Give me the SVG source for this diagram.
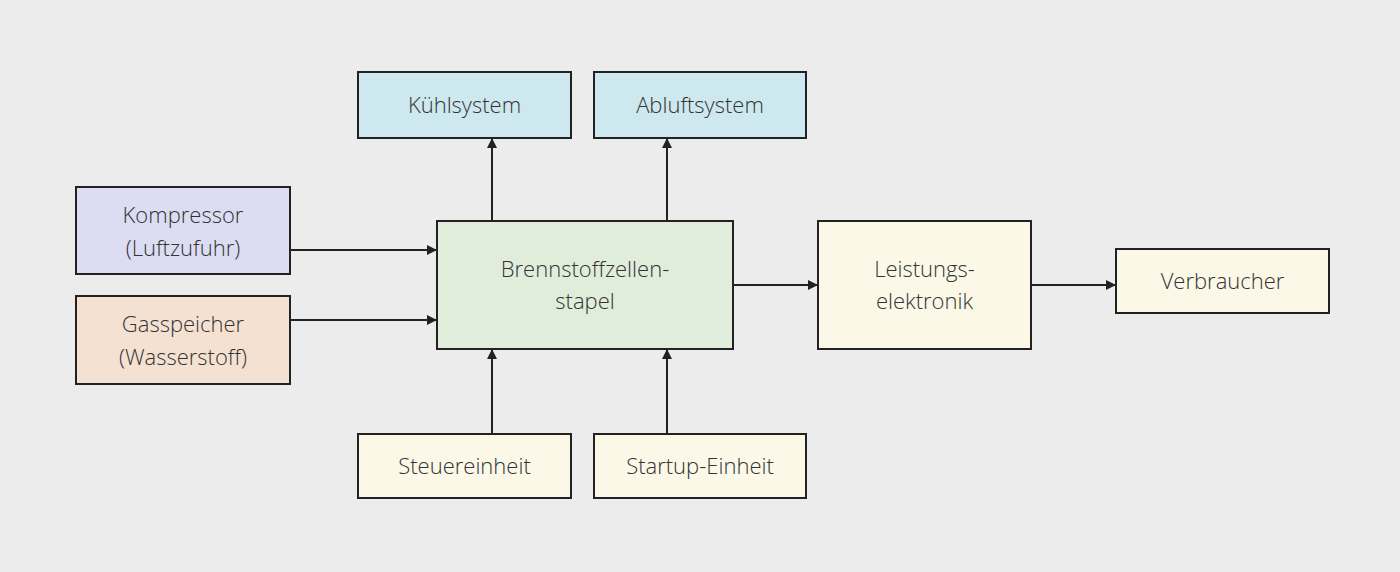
<svg xmlns="http://www.w3.org/2000/svg" width="1400" height="572" viewBox="0 0 1400 572">
<style>
.n{stroke:#222;stroke-width:2}
text{font-family:"Open Sans","Liberation Sans",sans-serif;font-size:22px;fill:#333;text-anchor:middle;font-weight:300}
.c line{stroke:#222;stroke-width:2;marker-end:url(#a)}
</style>
<defs><marker id="a" markerWidth="10" markerHeight="10" refX="9" refY="5" orient="auto" markerUnits="userSpaceOnUse"><path d="M0,0 L10,5 L0,10 z" fill="#222"/></marker></defs>
<rect width="1400" height="572" fill="#ececec"/>
<g class="c">
<line x1="492" y1="221" x2="492" y2="139"/>
<line x1="667" y1="221" x2="667" y2="139"/>
<line x1="290" y1="250" x2="436" y2="250"/>
<line x1="290" y1="320" x2="436" y2="320"/>
<line x1="733" y1="285" x2="817" y2="285"/>
<line x1="1031" y1="285" x2="1115" y2="285"/>
<line x1="492" y1="434" x2="492" y2="350"/>
<line x1="667" y1="434" x2="667" y2="350"/>
</g>
<g id="kuehl"><rect class="n" x="358" y="72" width="213" height="66" fill="#cde8ee"/><text x="464.5" y="113">Kühlsystem</text></g>
<g id="abluft"><rect class="n" x="594" y="72" width="212" height="66" fill="#cde8ee"/><text x="700" y="113">Abluftsystem</text></g>
<g id="kompressor"><rect class="n" x="76" y="187" width="214" height="87" fill="#dcdcf2"/><text x="183" y="223">Kompressor</text><text x="183" y="256">(Luftzufuhr)</text></g>
<g id="gas"><rect class="n" x="76" y="296" width="214" height="88" fill="#f5e1d2"/><text x="183" y="332">Gasspeicher</text><text x="183" y="365">(Wasserstoff)</text></g>
<g id="stack"><rect class="n" x="437" y="221" width="296" height="128" fill="#e1eddb"/><text x="585" y="277">Brennstoffzellen-</text><text x="585" y="309">stapel</text></g>
<g id="leistung"><rect class="n" x="818" y="221" width="213" height="128" fill="#fbf8e8"/><text x="924.5" y="277">Leistungs-</text><text x="924.5" y="309">elektronik</text></g>
<g id="verbraucher"><rect class="n" x="1116" y="249" width="213" height="64" fill="#fbf8e8"/><text x="1222.5" y="289">Verbraucher</text></g>
<g id="steuer"><rect class="n" x="358" y="434" width="213" height="64" fill="#fbf8e8"/><text x="464.5" y="474">Steuereinheit</text></g>
<g id="startup"><rect class="n" x="594" y="434" width="212" height="64" fill="#fbf8e8"/><text x="700" y="474">Startup-Einheit</text></g>
</svg>
